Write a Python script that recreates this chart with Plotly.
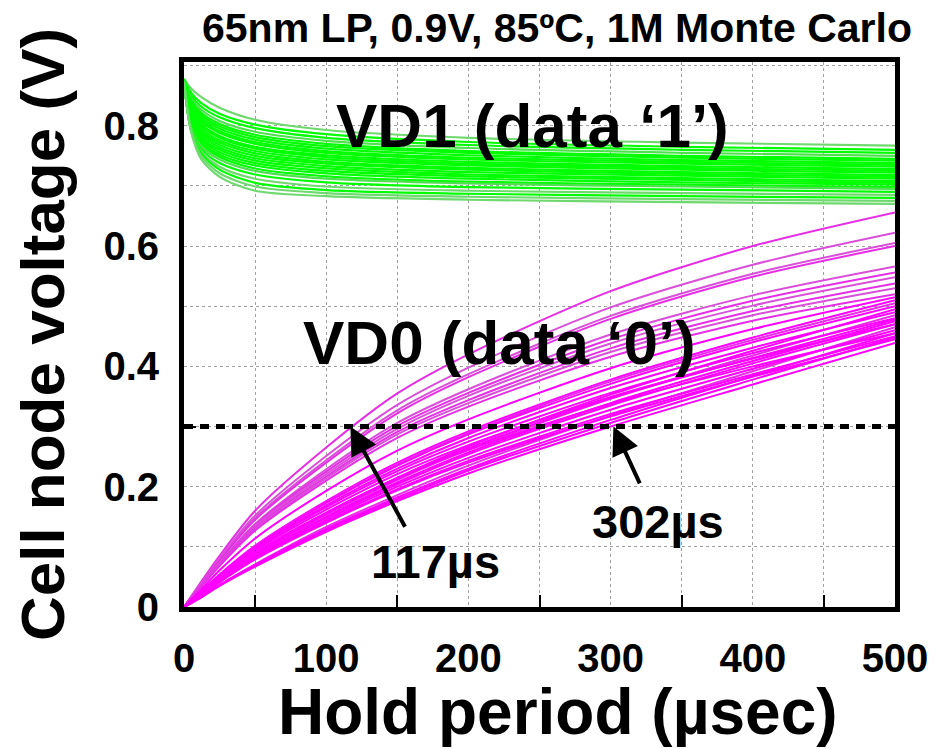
import plotly.graph_objects as go

# ---------------- data ----------------
TITLE = "65nm LP, 0.9V, 85ºC, 1M Monte Carlo"
X_TITLE = "Hold period (µsec)"
Y_TITLE = "Cell node voltage (V)"

X_TICKS = [0, 50, 100, 150, 200, 250, 300, 350, 400, 450, 500]
X_TICK_TEXT = ["0", "", "100", "", "200", "", "300", "", "400", "", "500"]
Y_TICKS = [0, 0.1, 0.2, 0.3, 0.4, 0.5, 0.6, 0.7, 0.8, 0.9]
Y_TICK_TEXT = ["0", "", "0.2", "", "0.4", "", "0.6", "", "0.8", ""]
X_MINOR_MARKS = [50, 150, 250, 350, 450]
Y_MINOR_MARKS = [0.3]

# VD1 (data '1') Monte Carlo traces
T_VD1 = [0, 5, 12, 25, 50, 100, 200, 350, 500]
VD1 = [
    [.878, .862, .848, .830, .810, .793, .780, .772, .767],
    [.878, .855, .838, .820, .802, .786, .773, .765, .760],
    [.877, .850, .832, .814, .796, .780, .768, .760, .755],
    [.877, .846, .827, .808, .790, .775, .763, .755, .750],
    [.877, .842, .822, .803, .785, .770, .758, .750, .745],
    [.876, .838, .818, .799, .781, .766, .755, .747, .742],
    [.876, .835, .814, .795, .777, .762, .751, .743, .738],
    [.876, .832, .810, .791, .773, .758, .747, .740, .735],
    [.876, .830, .807, .788, .770, .755, .744, .737, .732],
    [.876, .826, .803, .783, .765, .751, .740, .733, .728],
    [.875, .823, .800, .780, .762, .748, .737, .730, .725],
    [.875, .820, .796, .776, .758, .744, .734, .727, .722],
    [.875, .817, .792, .772, .754, .740, .730, .723, .718],
    [.875, .814, .789, .768, .750, .737, .727, .720, .715],
    [.875, .811, .785, .764, .746, .733, .723, .717, .712],
    [.875, .808, .781, .760, .742, .729, .719, .713, .708],
    [.874, .805, .778, .756, .738, .725, .716, .710, .705],
    [.874, .802, .774, .752, .734, .721, .712, .706, .702],
    [.874, .799, .770, .748, .729, .716, .707, .702, .698],
    [.874, .796, .766, .744, .725, .712, .704, .699, .695],
    [.874, .793, .762, .738, .719, .706, .698, .694, .690],
    [.873, .793, .758, .732, .712, .699, .692, .688, .685],
    [.873, .792, .755, .727, .705, .693, .687, .683, .680],
    [.873, .791, .750, .721, .699, .688, .682, .678, .675],
    [.873, .790, .745, .715, .692, .683, .677, .673, .670],
]
VD1_COLORS = ["#6fd86f", "#00ff00", "#00ff00", "#4fe04f", "#00ff00", "#00ff00",
              "#00ff00", "#00ff00", "#00ff00", "#00ff00", "#00ff00", "#00ff00",
              "#00ff00", "#00ff00", "#00ff00", "#00ff00", "#00ff00", "#00ff00",
              "#00ff00", "#4fe04f", "#00ff00", "#6fd86f", "#00ff00", "#6fd86f",
              "#6fd86f"]

# VD0 (data '0') Monte Carlo traces
T_VD0 = [0, 10, 25, 50, 100, 150, 200, 300, 400, 500]
VD0 = [
    [0, .035, .085, .160, .265, .355, .420, .525, .600, .656],
    [0, .033, .081, .152, .251, .336, .398, .498, .569, .622],
    [0, .032, .079, .148, .244, .327, .387, .484, .554, .605],
    [0, .031, .077, .145, .240, .322, .382, .479, .549, .600],
    [0, .030, .074, .138, .229, .306, .362, .453, .518, .566],
    [0, .029, .072, .136, .225, .301, .356, .445, .509, .556],
    [0, .029, .071, .134, .221, .296, .351, .438, .501, .548],
    [0, .029, .070, .131, .217, .291, .344, .430, .492, .538],
    [0, .028, .069, .129, .214, .287, .339, .424, .485, .530],
    [0, .028, .068, .127, .210, .281, .333, .416, .476, .520],
    [0, .024, .061, .114, .193, .260, .312, .397, .462, .515],
    [0, .021, .054, .102, .176, .240, .292, .378, .448, .510],
    [0, .021, .053, .101, .174, .237, .289, .375, .444, .505],
    [0, .021, .053, .100, .173, .235, .287, .371, .440, .500],
    [0, .018, .046, .088, .156, .215, .267, .353, .426, .495],
    [0, .021, .051, .098, .169, .230, .281, .364, .431, .490],
    [0, .017, .045, .086, .153, .211, .262, .346, .418, .485],
    [0, .020, .050, .096, .166, .226, .275, .356, .422, .480],
    [0, .018, .046, .087, .155, .213, .264, .347, .414, .478],
    [0, .017, .044, .084, .150, .207, .257, .339, .409, .475],
    [0, .020, .049, .094, .162, .221, .269, .349, .413, .470],
    [0, .017, .044, .083, .148, .204, .254, .335, .405, .470],
    [0, .014, .037, .071, .133, .186, .235, .318, .392, .465],
    [0, .017, .043, .081, .145, .200, .248, .328, .396, .460],
    [0, .019, .048, .091, .157, .214, .261, .338, .400, .455],
    [0, .014, .036, .070, .130, .182, .230, .311, .384, .455],
    [0, .016, .042, .080, .142, .196, .243, .321, .387, .450],
    [0, .013, .036, .069, .128, .179, .227, .306, .378, .448],
    [0, .016, .041, .079, .140, .194, .240, .317, .383, .445],
    [0, .013, .035, .067, .125, .176, .222, .300, .370, .439],
]
VD0_COLORS = ["#e62ee6", "#d94fd9", "#d94fd9", "#e62ee6", "#d94fd9", "#e62ee6",
              "#d94fd9", "#e62ee6", "#d94fd9", "#e62ee6", "#ff00ff", "#ff00ff",
              "#e62ee6", "#ff00ff", "#ff00ff", "#ff00ff", "#e62ee6", "#ff00ff",
              "#ff00ff", "#ff00ff", "#ff00ff", "#ff00ff", "#e62ee6", "#ff00ff",
              "#ff00ff", "#ff00ff", "#ff00ff", "#ff00ff", "#ff00ff", "#ff00ff"]

THRESHOLD_X = [0, 500]
THRESHOLD_Y = [0.3, 0.3]

# labelled crossing points (µs, V) and arrow tails
FAST_T, FAST_V, FAST_TAIL = 117, 0.3, (156, 0.131)
SLOW_T, SLOW_V, SLOW_TAIL = 302, 0.3, (321, 0.203)

X_RANGE = [0, 500]
Y_RANGE = [0, 0.906]

FONT = "Liberation Sans, Arial, Helvetica, sans-serif"

# ---------------- figure ----------------
fig = go.Figure()

for ys, c in zip(VD1, VD1_COLORS):
    fig.add_trace(go.Scatter(x=T_VD1, y=ys, mode="lines",
                             line=dict(color=c, width=2.2, shape="spline", smoothing=0.8),
                             hoverinfo="skip", showlegend=False))

for ys, c in zip(VD0, VD0_COLORS):
    fig.add_trace(go.Scatter(x=T_VD0, y=ys, mode="lines",
                             line=dict(color=c, width=2.0, shape="spline", smoothing=0.8),
                             hoverinfo="skip", showlegend=False))

fig.add_trace(go.Scatter(x=THRESHOLD_X, y=THRESHOLD_Y, mode="lines",
                         xaxis="x2", yaxis="y2",
                         line=dict(color="black", width=5, dash="9px,7px"),
                         hoverinfo="skip", showlegend=False))

axis_common = dict(showline=True, linecolor="black", linewidth=5, mirror=True,
                   zeroline=False, ticks="", showgrid=True,
                   gridcolor="#a0a0a0", gridwidth=1, griddash="dot",
                   tickfont=dict(family=FONT, size=40, color="black", weight="bold"))

fig.update_layout(
    width=952, height=749,
    margin=dict(l=184, r=57, t=62, b=142),
    paper_bgcolor="white", plot_bgcolor="white",
    title=dict(text=TITLE, x=557 / 952, xanchor="center", y=1 - 28 / 749,
               yanchor="middle", yref="container",
               font=dict(family=FONT, size=41, color="black", weight="bold")),
    xaxis=dict(range=X_RANGE, tickvals=X_TICKS, ticktext=X_TICK_TEXT,
               ticklabelstandoff=12, **axis_common),
    yaxis=dict(range=Y_RANGE, tickvals=Y_TICKS, ticktext=Y_TICK_TEXT,
               ticklabelstandoff=12,
               title=dict(text=Y_TITLE, standoff=20,
                          font=dict(family=FONT, size=62, color="black", weight="bold")),
               **axis_common),
    xaxis2=dict(range=X_RANGE, overlaying="x", anchor="y2", side="bottom",
                tickvals=X_MINOR_MARKS, ticks="inside", ticklen=12, tickwidth=2,
                tickcolor="black", showticklabels=False, showgrid=False,
                zeroline=False, showline=False),
    yaxis2=dict(range=Y_RANGE, overlaying="y", anchor="x2", side="left",
                tickvals=Y_MINOR_MARKS, ticks="inside", ticklen=12, tickwidth=2,
                tickcolor="black", showticklabels=False, showgrid=False,
                zeroline=False, showline=False),
)

# x-axis title (slightly right of the plot centre, as in the reference)
fig.add_annotation(text=X_TITLE, xref="paper", yref="paper",
                   x=(558 - 184) / (895 - 184), y=(607 - 712) / (607 - 62),
                   xanchor="center", yanchor="middle", showarrow=False,
                   font=dict(family=FONT, size=64, color="black", weight="bold"))

big = dict(family=FONT, size=62, color="black", weight="bold")
mid = dict(family=FONT, size=47, color="black", weight="bold")

fig.add_annotation(x=245, y=0.8, text="VD1 (data ‘1’)", showarrow=False,
                   font=big, xanchor="center", yanchor="middle")
fig.add_annotation(x=222, y=0.44, text="VD0 (data ‘0’)", showarrow=False,
                   font=big, xanchor="center", yanchor="middle")

fig.add_annotation(x=FAST_T, y=FAST_V, ax=FAST_TAIL[0], ay=FAST_TAIL[1],
                   axref="x", ayref="y", text="", showarrow=True,
                   arrowhead=2, arrowsize=1.4, arrowwidth=4, arrowcolor="black")
fig.add_annotation(x=SLOW_T, y=SLOW_V, ax=SLOW_TAIL[0], ay=SLOW_TAIL[1],
                   axref="x", ayref="y", text="", showarrow=True,
                   arrowhead=2, arrowsize=1.4, arrowwidth=4, arrowcolor="black")
fig.add_annotation(x=177, y=0.076, text=f"{FAST_T}µs", showarrow=False,
                   font=mid, xanchor="center", yanchor="middle")
fig.add_annotation(x=333, y=0.142, text=f"{SLOW_T}µs", showarrow=False,
                   font=mid, xanchor="center", yanchor="middle")

fig.write_html("out.html")
